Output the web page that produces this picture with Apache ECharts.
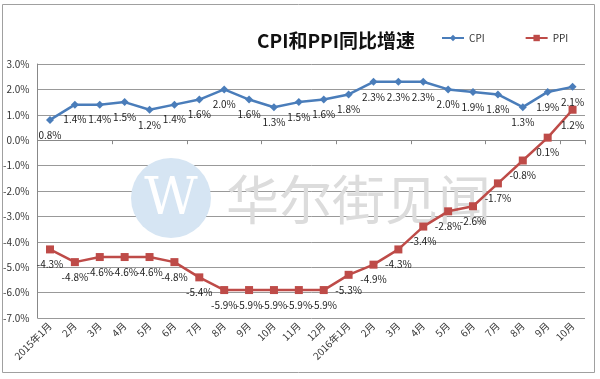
<!DOCTYPE html>
<html><head><meta charset="utf-8">
<script src="https://cdn.jsdelivr.net/npm/echarts@6/dist/echarts.min.js"></script>
<style>html,body{margin:0;padding:0;background:#fff}#c{width:600px;height:379px}</style>
</head><body><div id="c"></div>
<script>
const categories = ['2015年1月','2月','3月','4月','5月','6月','7月','8月','9月','10月','11月','12月','2016年1月','2月','3月','4月','5月','6月','7月','8月','9月','10月'];
const cpi = [0.8,1.4,1.4,1.5,1.2,1.4,1.6,2.0,1.6,1.3,1.5,1.6,1.8,2.3,2.3,2.3,2.0,1.9,1.8,1.3,1.9,2.1];
const ppi = [-4.3,-4.8,-4.6,-4.6,-4.6,-4.8,-5.4,-5.9,-5.9,-5.9,-5.9,-5.9,-5.3,-4.9,-4.3,-3.4,-2.8,-2.6,-1.7,-0.8,0.1,1.2];
const yMin = -7, yMax = 3, yStep = 1;

const chart = echarts.init(document.getElementById('c'));
const font = '"Noto Sans CJK SC", "Noto Sans", sans-serif';
const lbl = {show:true, position:'bottom', distance:6, fontSize:10, color:'#222', fontFamily:font,
  formatter: p => p.value.toFixed(1) + '%'};
chart.setOption({
  animation:false,
  backgroundColor:'#fff',
  textStyle:{fontFamily:font},
  title:{text:'CPI和PPI同比增速', left:252, top:26,
    textStyle:{fontSize:19, fontWeight:'bold', color:'#111', fontFamily:font}},
  legend:{left:436, top:28, itemWidth:22, itemHeight:8, itemGap:40,
    textStyle:{fontSize:10, color:'#333'}, data:['CPI','PPI']},
  graphic:[
    {type:'rect', shape:{x:2.5,y:4.5,width:592,height:368}, style:{fill:null, stroke:'#a0a0a0', lineWidth:1}, z:-10},
    {type:'circle', shape:{cx:171,cy:198,r:40}, style:{fill:'#d6e5f3'}, z:1},
    {type:'text', style:{x:171,y:200,text:'W',fontSize:52,fontFamily:'"DejaVu Serif", serif',fill:'#fff',textAlign:'center',textVerticalAlign:'middle'}, z:1},
    {type:'text', style:{x:226,y:200,text:'华尔街见闻',fontSize:53,fontFamily:'"Noto Sans CJK SC", serif',fill:'#dcdcdc',textAlign:'left',textVerticalAlign:'middle'}, z:1}
  ],
  grid:{left:37, right:15, top:64, bottom:61},
  xAxis:[
    {type:'category', data:categories, boundaryGap:true, position:'bottom',
      axisLine:{show:false, onZero:false}, axisTick:{show:false},
      axisLabel:{rotate:45, fontSize:10, color:'#333', margin:6, interval:0}},
    {type:'category', data:categories, boundaryGap:true, position:'bottom',
      axisLine:{show:true, onZero:true, lineStyle:{color:'#888', width:1}},
      axisTick:{show:true, inside:false, length:4, lineStyle:{color:'#888'}},
      axisLabel:{show:false}}
  ],
  yAxis:{type:'value', min:yMin, max:yMax, interval:yStep,
    axisLine:{show:true, lineStyle:{color:'#888'}}, axisTick:{show:false},
    axisLabel:{fontSize:10, color:'#333', margin:8, formatter:v => v.toFixed(1)+'%'},
    splitLine:{lineStyle:{color:'#999', width:1}}},
  series:[
    {name:'CPI', type:'line', data:cpi, xAxisIndex:0, color:'#4A7DBA',
      lineStyle:{width:2.5, color:'#4A7DBA'}, symbol:'diamond', symbolSize:8,
      itemStyle:{color:'#4A7DBA'}, label:lbl, z:3},
    {name:'PPI', type:'line', data:ppi, xAxisIndex:0, color:'#BE4B48',
      lineStyle:{width:2.5, color:'#BE4B48'}, symbol:'rect', symbolSize:8,
      itemStyle:{color:'#BE4B48'}, label:lbl, z:3}
  ]
});
</script></body></html>
